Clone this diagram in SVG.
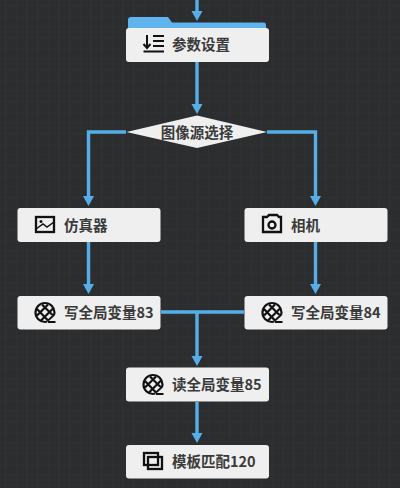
<svg xmlns="http://www.w3.org/2000/svg" width="400" height="488" viewBox="0 0 400 488">
<style>
.n{fill:#efefef}
.t{font-family:"Noto Sans CJK SC","Noto Sans",sans-serif;font-size:14.500px;font-weight:700;fill:#3a3a3a;dominant-baseline:central}
.c{fill:none;stroke:#55aee8;stroke-width:3.400}
.a{fill:#55aee8}
.i{fill:none;stroke:#111;stroke-width:2.300}
.f{fill:#111}
</style>
<defs>
<pattern id="g" width="10.670" height="10.670" patternUnits="userSpaceOnUse" x="5" y="5">
<rect width="10.670" height="10.670" fill="#2b2d2f"/>
<path d="M0 .5H10.670M.5 0V10.670" stroke="#2f3133" stroke-width="1" fill="none"/>
</pattern>
<polygon id="h" points="-5.500,-10 5.500,-10 0,0" class="a"/>
<g id="glb">
<circle cx="0" cy="0" r="9.500" fill="none" stroke="#111" stroke-width="2.200"/>
<path d="M-8 -3.500L3 8M-3 -8L8 3M8 -4L-4 8M3 -8L-8 3" stroke="#111" stroke-width="2.200" fill="none"/>
<path d="M2 10L11 10L11 3L6 3Z" fill="#efefef"/>
<path d="M3 8L9 2.500M3 9.500H10.500" stroke="#111" stroke-width="1.800" fill="none"/>
</g>
</defs>
<rect width="400" height="488" fill="url(#g)"/>
<g id="connectors">
<path class="c" d="M197 0V12M197 62V105M126 132H88.500V198M267 132H315.500V198M88.500 242V287M315.500 242V287M161 312H244M197 312V357M197 402V436"/>
<use href="#h" x="197" y="21"/>
<use href="#h" x="197" y="114"/>
<use href="#h" x="88.500" y="206"/>
<use href="#h" x="315.500" y="206"/>
<use href="#h" x="88.500" y="294"/>
<use href="#h" x="315.500" y="294"/>
<use href="#h" x="197" y="366"/>
<use href="#h" x="197" y="443"/>
</g>
<g id="node-params">
<path d="M128 28V20Q128 17 131 17H168L172 22.500H264Q266 22.500 266 25V28Z" fill="#5fb4ee"/>
<rect class="n" x="126" y="28" width="143" height="34" rx="3"/>
<path d="M147 35V47M143.500 44L147 48L150.500 44M153 36H164M153 41H164M153 46H164M143.500 51.500H164" stroke="#111" stroke-width="2" fill="none"/>
<text class="t" x="172" y="43">参数设置</text>
</g>
<g id="node-decision">
<polygon points="126.500,132 197,115.500 267,132 197,148" class="n"/>
<text class="t" x="197" y="131" text-anchor="middle">图像源选择</text>
</g>
<g id="node-sim">
<rect class="n" x="17.500" y="208" width="143" height="34" rx="3"/>
<rect class="i" x="36" y="217" width="18" height="15"/>
<circle cx="41" cy="221.500" r="1.500" class="f"/>
<path d="M36 229L43 224L47 227L54 222" fill="none" stroke="#111" stroke-width="1.500"/>
<text class="t" x="64" y="224">仿真器</text>
</g>
<g id="node-camera">
<rect class="n" x="244.500" y="208" width="143" height="34" rx="3"/>
<path d="M264 217H267L269 215H277L279 217H281V232H263V217Z" class="i"/>
<circle cx="272" cy="225" r="3.500" class="i"/>
<text class="t" x="291" y="224">相机</text>
</g>
<g id="node-w83">
<rect class="n" x="17.500" y="296" width="143" height="33.500" rx="3"/>
<use href="#glb" x="45" y="312.500"/>
<text class="t" x="64" y="311">写全局变量83</text>
</g>
<g id="node-w84">
<rect class="n" x="244.500" y="296" width="143" height="33.500" rx="3"/>
<use href="#glb" x="272" y="312.500"/>
<text class="t" x="291" y="311">写全局变量84</text>
</g>
<g id="node-r85">
<rect class="n" x="126" y="367.500" width="143" height="34" rx="3"/>
<use href="#glb" x="153" y="384.500"/>
<text class="t" x="172" y="383">读全局变量85</text>
</g>
<g id="node-match">
<rect class="n" x="126" y="445" width="143" height="33.500" rx="3"/>
<rect x="144" y="453" width="14" height="12" class="i"/>
<rect x="148" y="457" width="14" height="12" class="i"/>
<text class="t" x="172" y="460">模板匹配120</text>
</g>
</svg>
